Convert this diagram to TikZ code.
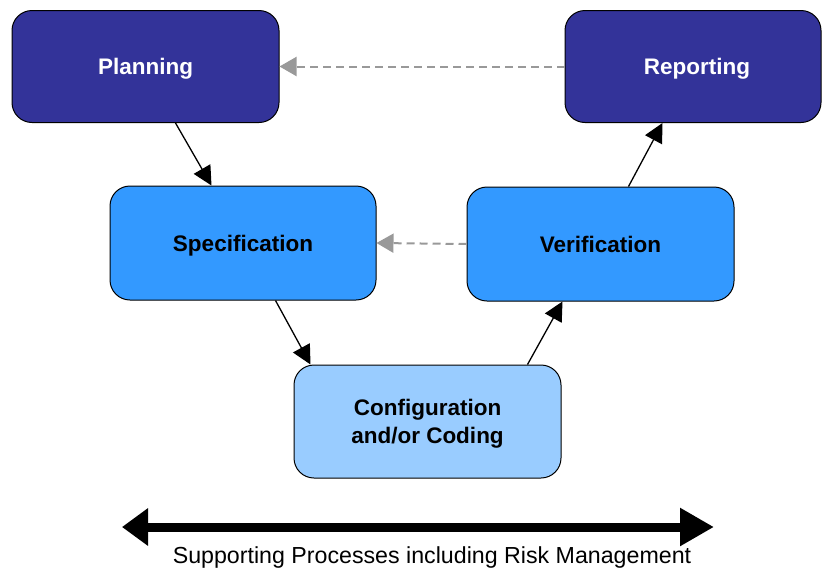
\documentclass[tikz,border=0pt]{standalone}
\usepackage{fontspec}
\setmainfont{Liberation Sans}
\usetikzlibrary{arrows.meta}
\definecolor{navy}{HTML}{333399}
\definecolor{midblue}{HTML}{3399FF}
\definecolor{lightblue}{HTML}{99CCFF}
\definecolor{dashgray}{HTML}{999999}
\tikzset{
  box/.style={draw=black, line width=1pt, rounded corners=20pt, minimum width=267pt, minimum height=113pt, align=center, inner sep=0pt, text depth=0pt, font=\fontsize{22.5}{27.5}\selectfont\bfseries},
  darkbox/.style={box, fill=navy, text=white},
  midbox/.style={box, fill=midblue, text=black},
  lightbox/.style={box, fill=lightblue, text=black},
  flow/.style={line width=1.3pt, -{Triangle[length=19pt,width=19pt]}},
  back/.style={line width=2pt, dashgray, dash pattern=on 8pt off 5pt, -{Triangle[length=17pt,width=19pt]}},
  support/.style={line width=9pt, {Triangle[length=26pt,width=36pt]}-{Triangle[length=34pt,width=36pt]}},
}
\begin{document}
\begin{tikzpicture}[x=1pt,y=-1pt]
\useasboundingbox (0,0) rectangle (822,571);
\node[darkbox, minimum height=112pt] (plan) at (145.5,66.5) {Planning};
\node[darkbox, minimum width=256pt, minimum height=112pt] (rep) at (693,66.5) {\hspace*{8pt}Reporting};
\node[midbox, minimum width=266pt, minimum height=114pt] (spec) at (243,243) {Specification};
\node[midbox, minimum height=114pt] (ver) at (600.5,244) {Verification};
\node[lightbox] (conf) at (427.5,421.5) {Configuration\\and/or Coding};
\draw[flow] ([xshift=164pt]plan.south west) -- ([xshift=102pt]spec.north west);
\draw[flow] ([xshift=166pt]spec.south west) -- ([xshift=17pt]conf.north west);
\draw[flow] ([xshift=234pt]conf.north west) -- ([xshift=96pt]ver.south west);
\draw[flow] ([xshift=162pt]ver.north west) -- ([xshift=98pt]rep.south west);
\draw[back] (rep.west) -- (plan.east);
\draw[back] (ver.west) -- (spec.east);
\coordinate (la) at (122,527);
\coordinate (ra) at (714,527);
\draw[support] (la) -- (ra);
\node[font=\fontsize{23.2}{27}\selectfont] (sup) at (432,557) {Supporting Processes including Risk Management};
\end{tikzpicture}
\end{document}
